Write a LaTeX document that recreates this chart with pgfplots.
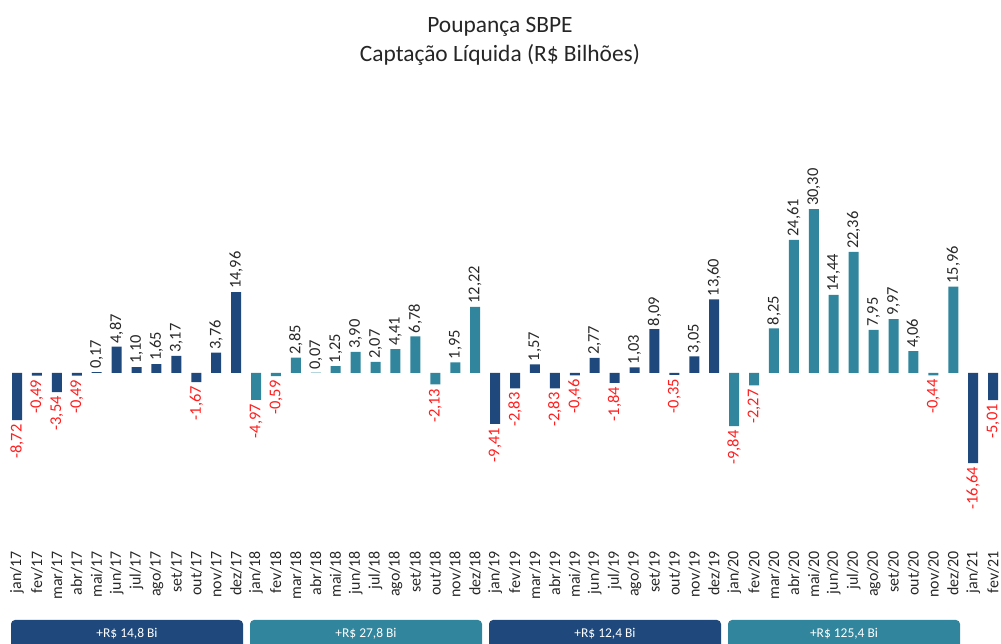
\documentclass[border=0pt]{standalone}
\usepackage{pgfplots}
\usepackage{pgfplotstable}
\pgfplotsset{compat=1.18}
\usepackage{fontspec}
\setmainfont{Carlito}
\definecolor{darkb}{RGB}{31,73,125}
\definecolor{tealc}{RGB}{49,133,156}
\definecolor{valred}{RGB}{255,30,30}
\definecolor{valgray}{RGB}{40,40,40}

\pgfplotstableread{
x y
4 0.17
5 4.87
6 1.10
7 1.65
8 3.17
10 3.76
11 14.96
26 1.57
29 2.77
31 1.03
32 8.09
34 3.05
35 13.60
}\darkpos
\pgfplotstableread{
x y
0 -8.72
1 -0.49
2 -3.54
3 -0.49
9 -1.67
24 -9.41
25 -2.83
27 -2.83
28 -0.46
30 -1.84
33 -0.35
48 -16.64
49 -5.01
}\darkneg
\pgfplotstableread{
x y
14 2.85
15 0.07
16 1.25
17 3.90
18 2.07
19 4.41
20 6.78
22 1.95
23 12.22
38 8.25
39 24.61
40 30.30
41 14.44
42 22.36
43 7.95
44 9.97
45 4.06
47 15.96
}\tealpos
\pgfplotstableread{
x y
12 -4.97
13 -0.59
21 -2.13
36 -9.84
37 -2.27
46 -0.44
}\tealneg

\begin{document}
\begin{tikzpicture}
\path[use as bounding box] (0,0) rectangle (1001bp,644bp);
\begin{axis}[
  at={(0,94bp)}, anchor=south west,
  scale only axis, width=1001bp, height=356bp,
  xmin=-0.8535, xmax=49.40,
  ymin=-32.72, ymax=33.08,
  clip=false,
  axis x line*=bottom, axis y line=none,
  x axis line style={draw=none},
  major tick length=0pt,
  xtick={0,...,49},
  xticklabels={jan/17,fev/17,mar/17,abr/17,mai/17,jun/17,jul/17,ago/17,set/17,out/17,nov/17,dez/17,
               jan/18,fev/18,mar/18,abr/18,mai/18,jun/18,jul/18,ago/18,set/18,out/18,nov/18,dez/18,
               jan/19,fev/19,mar/19,abr/19,mai/19,jun/19,jul/19,ago/19,set/19,out/19,nov/19,dez/19,
               jan/20,fev/20,mar/20,abr/20,mai/20,jun/20,jul/20,ago/20,set/20,out/20,nov/20,dez/20,
               jan/21,fev/21},
  xticklabel style={rotate=90, anchor=east, font=\fontsize{16}{18}\selectfont, text=black!85, inner sep=1bp},
  /pgf/number format/.cd, use comma, fixed, fixed zerofill, precision=2, assume math mode=true,
]
\pgfplotsset{
  posl/.style={nodes near coords, point meta=y,
    nodes near coords style={rotate=90, anchor=west, text=valgray, font=\fontsize{16.5}{18}\selectfont, inner sep=3bp}},
  negl/.style={nodes near coords, point meta=y,
    nodes near coords style={rotate=90, anchor=east, text=valred, font=\fontsize{16.5}{18}\selectfont, inner sep=4bp}},
}
\addplot[ybar, bar width=10bp, bar shift=0pt, fill=darkb, draw=none, posl] table {\darkpos};
\addplot[ybar, bar width=10bp, bar shift=0pt, fill=darkb, draw=none, negl] table {\darkneg};
\addplot[ybar, bar width=10bp, bar shift=0pt, fill=tealc, draw=none, posl] table {\tealpos};
\addplot[ybar, bar width=10bp, bar shift=0pt, fill=tealc, draw=none, negl] table {\tealneg};
\end{axis}
\node[font=\fontsize{23.5}{28}\selectfont, text=black!85] at (500bp,617bp) {Poupança SBPE};
\node[font=\fontsize{23.5}{28}\selectfont, text=black!85] at (500bp,589bp) {Captação Líquida (R\$ Bilhões)};
\foreach \k/\c/\t in {0/darkb/{+R\$ 14,8 Bi},1/tealc/{+R\$ 27,8 Bi},2/darkb/{+R\$ 12,4 Bi},3/tealc/{+R\$ 125,4 Bi}}{
  \fill[\c, rounded corners=4bp] ({11bp+239bp*\k},-10bp) rectangle ({243bp+239bp*\k},24bp);
  \node[text=white, font=\fontsize{13.5}{16}\selectfont] at ({127bp+239bp*\k},10bp) {\t};
}
\end{tikzpicture}
\end{document}
